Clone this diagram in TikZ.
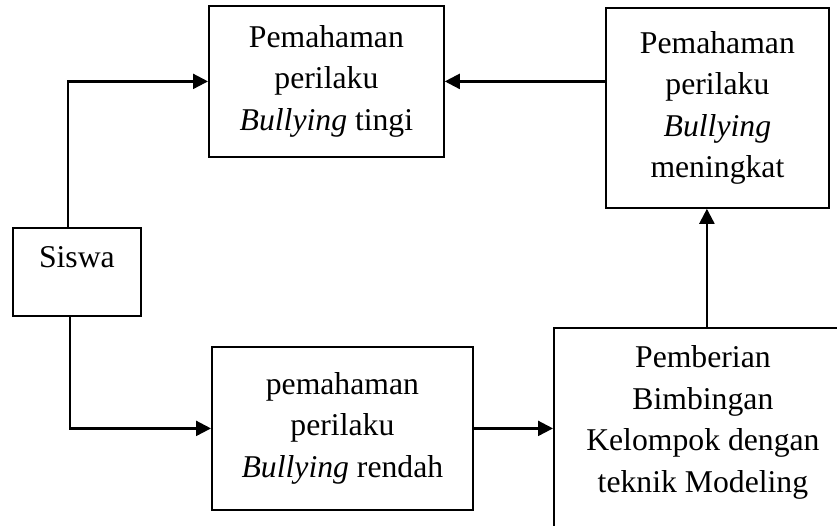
\documentclass[tikz,border=0pt]{standalone}
\usepackage{fontspec}
\setmainfont{Liberation Serif}
\usetikzlibrary{arrows.meta}

\begin{document}
\begin{tikzpicture}[x=1pt,y=-1pt,
	box/.style={draw,line width=1.8pt,inner sep=0pt,anchor=north west,
		font=\fontsize{31.7pt}{41.5pt}\selectfont},
	arr/.style={line width=2.3pt,-{Triangle[length=15pt,width=15pt]}}]
	\useasboundingbox (0,0) rectangle (837,526);
	\clip (0,0) rectangle (837,526);
	\node[box,minimum width=128pt,minimum height=88pt,text height=40pt,text depth=48pt] (siswa) at (12,227) {Siswa};
	\node[box,align=center,minimum width=235pt,minimum height=151pt] (tinggi) at (208,5)
		{Pemahaman\\perilaku\\\textit{Bullying} tingi};
	\node[box,align=center,minimum width=223pt,minimum height=200pt] (meningkat) at (605,7)
		{Pemahaman\\perilaku\\\textit{Bullying}\\meningkat};
	\node[box,align=center,minimum width=261pt,minimum height=163pt] (rendah) at (211,346)
		{pemahaman\\perilaku\\\textit{Bullying} rendah};
	% box runs past the page on the right and bottom
	\node[box,minimum width=358pt,text height=40pt,text depth=260pt] (pemberian) at (553,327)
		{\begin{tabular}[t]{@{}c@{\hspace{60pt}}}Pemberian\\Bimbingan\\Kelompok dengan\\teknik Modeling\end{tabular}};

	\draw[arr] ([xshift=-9pt]siswa.north) |- (tinggi.west);
	\draw[arr] ([xshift=-7pt]siswa.south) |- (rendah.west);
	\draw[arr] (meningkat.west |- tinggi.east) -- (tinggi.east);
	\draw[arr] (rendah.east) -- (rendah.east -| pemberian.west);
	\draw[arr] ([xshift=-26pt]pemberian.north) -- ([xshift=-26pt]pemberian.north |- meningkat.south);
\end{tikzpicture}
\end{document}
